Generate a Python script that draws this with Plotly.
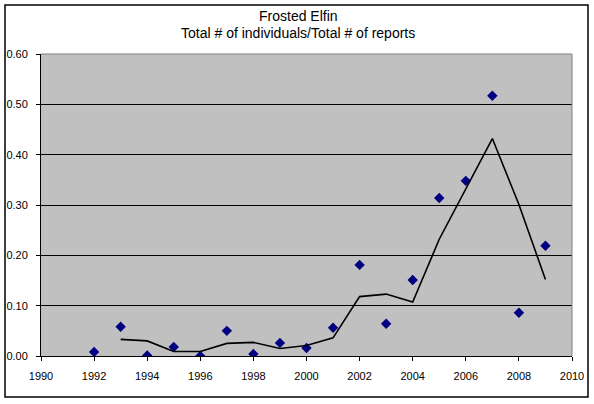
"""Frosted Elfin: individuals per report, Excel-style scatter with moving average."""

import plotly.graph_objects as go

years = [1992, 1993, 1994, 1995, 1996, 1997, 1998, 1999, 2000,
         2001, 2002, 2003, 2004, 2005, 2006, 2007, 2008, 2009]
ratio = [0.008, 0.058, 0.001, 0.018, 0.000, 0.050, 0.004, 0.026, 0.016,
         0.056, 0.181, 0.064, 0.151, 0.314, 0.348, 0.517, 0.086, 0.219]

# 2-period moving average trendline
trend_years = [1993, 1994, 1995, 1996, 1997, 1998, 1999, 2000,
               2001, 2002, 2003, 2004, 2005, 2006, 2007, 2008, 2009]
trend = [0.033, 0.030, 0.009, 0.009, 0.025, 0.027, 0.015, 0.021,
         0.036, 0.118, 0.123, 0.107, 0.232, 0.331, 0.432, 0.301, 0.152]

title_lines = ["Frosted Elfin", "Total # of individuals/Total # of reports"]

fig = go.Figure()
fig.add_trace(go.Scatter(x=years, y=ratio, mode="markers",
                         marker=dict(symbol="diamond", size=8, color="#000080"),
                         showlegend=False))
fig.add_trace(go.Scatter(x=trend_years, y=trend, mode="lines",
                         line=dict(color="black", width=1.6),
                         showlegend=False))

fig.update_layout(
    width=594, height=404,
    margin=dict(l=41, r=22, t=54, b=48, autoexpand=False),
    paper_bgcolor="white", plot_bgcolor="#c0c0c0",
    font=dict(family="Liberation Sans, Arial", size=11, color="black"),
)

# title as two annotations placed in pixels above the plot area
plot_h = 404 - 54 - 48
for i, txt in enumerate(title_lines):
    fig.add_annotation(text=txt, xref="paper", yref="paper",
                       x=(298 - 41) / 531, y=1 + (54 - 16 - 17 * i) / plot_h,
                       xanchor="center", yanchor="middle", showarrow=False,
                       font=dict(size=14, color="black"))

fig.update_xaxes(range=[1990, 2010], dtick=2, tick0=1990, automargin=False,
                 showgrid=False, zeroline=False,
                 showline=True, linecolor="black", linewidth=1,
                 ticks="outside", ticklen=4, tickcolor="black",
                 ticklabelstandoff=6, tickfont=dict(size=11))
fig.update_yaxes(range=[0, 0.6], dtick=0.1, tickformat=".2f", automargin=False,
                 showgrid=True, gridcolor="black", gridwidth=1,
                 zeroline=False,
                 showline=True, linecolor="black", linewidth=1,
                 ticks="outside", ticklen=4, tickcolor="black",
                 ticklabelstandoff=6, tickfont=dict(size=11))

# gray frame on top/right of plot area, black border round whole chart
fig.add_shape(type="line", xref="paper", yref="paper", x0=0, x1=1, y0=1, y1=1,
              line=dict(color="#808080", width=1))
fig.add_shape(type="line", xref="paper", yref="paper", x0=1, x1=1, y0=0, y1=1,
              line=dict(color="#808080", width=1))
fig.add_shape(type="rect", xref="paper", yref="paper",
              x0=-36 / 531, x1=1 + 16 / 531, y0=-41 / plot_h, y1=1 + 49 / plot_h,
              line=dict(color="black", width=1.5))

# page body has a default 8px margin; drop it so the chart sits at the corner
fig.write_html("out.html", config={"displayModeBar": False},
               post_script="document.body.style.margin='0px';")
